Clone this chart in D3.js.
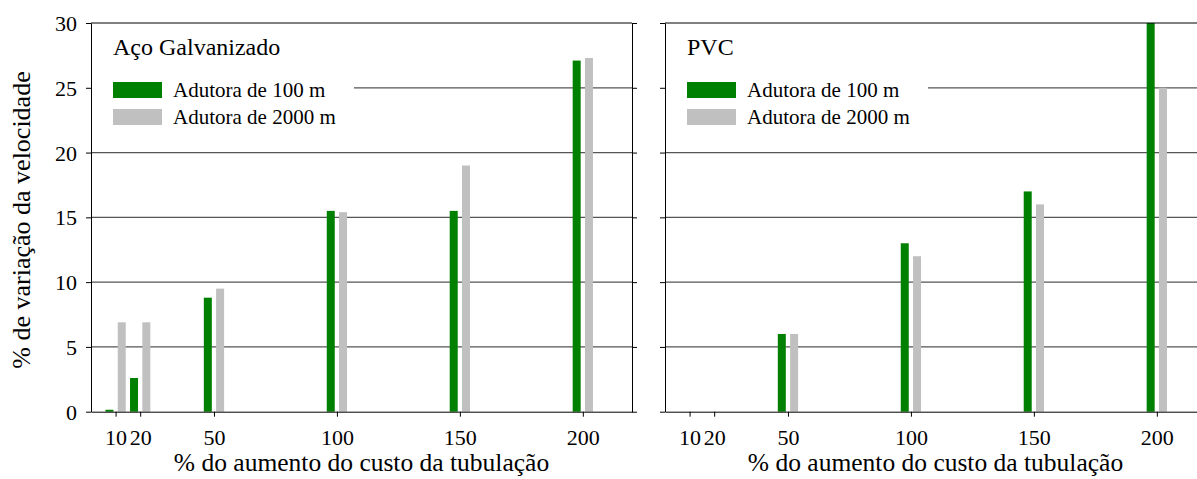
<!DOCTYPE html>
<head>
  <meta charset="utf-8">
  <script src="https://d3js.org/d3.v7.min.js"></script>
  <style>
    body { margin: 0; background: #fff; }
  </style>
</head>
<body>
  <svg width="1197" height="479"></svg>
  <script>
    // data
    const costIncrease = [10, 20, 50, 100, 150, 200];
    const galv100 = [0.15, 2.6, 8.8, 15.5, 15.5, 27.1];
    const galv2000 = [6.9, 6.9, 9.5, 15.4, 19.0, 27.3];
    const pvc100 = [0, 0, 6.0, 13.0, 17.0, 30.0];
    const pvc2000 = [0, 0, 6.0, 12.0, 16.0, 25.0];
    const panelTitles = ["Aço Galvanizado", "PVC"];
    const seriesNames = ["Adutora de 100 m", "Adutora de 2000 m"];
    const seriesColors = ["#008000", "#c0c0c0"];
    const yTicks = [0, 5, 10, 15, 20, 25, 30];
    const xTitle = "% do aumento do custo da tubulação";
    const yTitle = "% de variação da velocidade";

    const serif = "'Liberation Serif', 'Times New Roman', 'DejaVu Serif', serif";

    const panels = [
      { title: panelTitles[0], series: [galv100, galv2000], x0: 91, labels: true },
      { title: panelTitles[1], series: [pvc100, pvc2000], x0: 665, labels: false }
    ];

    const W = 541, plotTop = 23, plotBottom = 411.7;
    const svg = d3.select("svg");

    const y = d3.scaleLinear().domain([0, 30]).range([plotBottom, plotTop]);

    panels.forEach(function (p) {
      const x = d3.scaleLinear().domain([0, 220]).range([p.x0, p.x0 + W]);
      const g = svg.append("g");

      // grid
      g.selectAll("line.grid")
        .data(yTicks.filter(d => d > 0 && d < 30))
        .enter().append("line")
        .attr("x1", p.x0).attr("x2", p.x0 + W)
        .attr("y1", d => y(d)).attr("y2", d => y(d))
        .attr("stroke", "#555").attr("stroke-width", 1.2);

      // legend box hides the grid
      g.append("rect")
        .attr("x", p.x0 + 1).attr("y", plotTop + 2)
        .attr("width", 262).attr("height", 110)
        .attr("fill", "#fff");

      // bars
      const offsets = [-2.5, 2.5];
      p.series.forEach(function (vals, si) {
        g.selectAll("rect.s" + si)
          .data(costIncrease.map((c, i) => ({ c: c, v: vals[i] })))
          .enter().append("rect")
          .attr("class", "s" + si)
          .attr("x", d => x(d.c + offsets[si]) - 4)
          .attr("width", 8)
          .attr("y", d => y(d.v))
          .attr("height", d => y(0) - y(d.v))
          .attr("fill", seriesColors[si]);
      });

      // axes
      const yAxis = d3.axisLeft(y).tickValues(yTicks).tickSize(5).tickSizeOuter(0)
        .tickFormat(p.labels ? d3.format("d") : "");
      const ya = g.append("g").attr("transform", "translate(" + p.x0 + ",0)").call(yAxis);
      ya.selectAll("text").attr("font-size", 22).attr("x", -14).attr("dy", "0.34em");

      const yRight = d3.axisRight(y).tickValues(yTicks).tickSize(5).tickSizeOuter(0).tickFormat("");
      g.append("g").attr("transform", "translate(" + (p.x0 + W) + ",0)").call(yRight);

      const xAxis = d3.axisBottom(x).tickValues(costIncrease).tickSize(5).tickSizeOuter(0);
      const xa = g.append("g").attr("transform", "translate(0," + plotBottom + ")").call(xAxis);
      xa.selectAll("text").attr("font-size", 22).attr("y", 18).attr("dy", "0.71em");

      g.append("line")
        .attr("x1", p.x0).attr("x2", p.x0 + W)
        .attr("y1", plotTop).attr("y2", plotTop)
        .attr("stroke", "#000");

      g.selectAll(".domain").attr("stroke", "#000");
      g.selectAll(".tick line").attr("stroke", "#000");

      // title + legend
      g.append("text")
        .attr("x", p.x0 + 22).attr("y", 55)
        .attr("font-size", 24)
        .text(p.title);

      seriesNames.forEach(function (name, i) {
        g.append("rect")
          .attr("x", p.x0 + 22).attr("y", 82 + i * 27)
          .attr("width", 49).attr("height", 16)
          .attr("fill", seriesColors[i]);
        g.append("text")
          .attr("x", p.x0 + 82).attr("y", 97 + i * 27)
          .attr("font-size", 21)
          .text(name);
      });

      g.append("text")
        .attr("x", p.x0 + W / 2).attr("y", 471)
        .attr("text-anchor", "middle")
        .attr("font-size", 25.5)
        .text(xTitle);
    });

    svg.append("text")
      .attr("transform", "translate(30,220) rotate(-90)")
      .attr("text-anchor", "middle")
      .attr("font-size", 26)
      .text(yTitle);

    svg.selectAll("g").attr("font-family", null);
    svg.selectAll("text").style("font-family", serif).attr("fill", "#000");
  </script>
</body>
